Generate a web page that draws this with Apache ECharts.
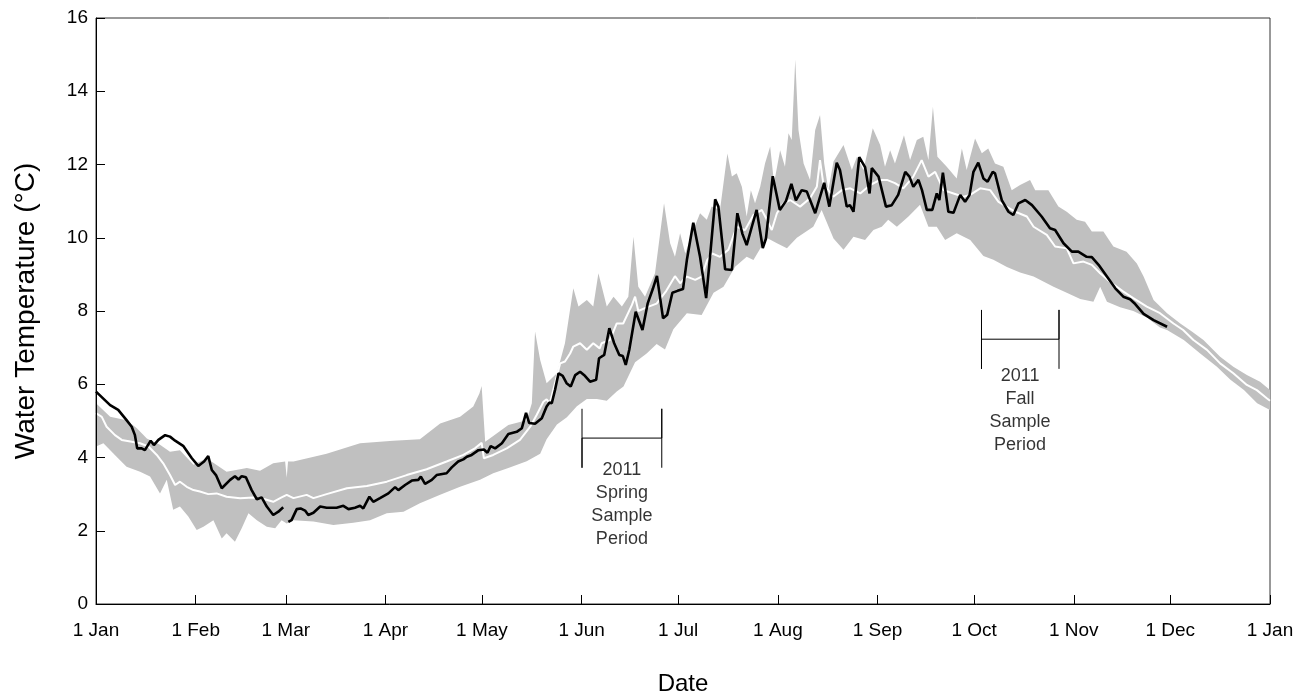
<!DOCTYPE html>
<html>
<head>
<meta charset="utf-8">
<script src="https://cdn.jsdelivr.net/npm/echarts@6/dist/echarts.min.js"></script>
<style>
html,body{margin:0;padding:0;background:#fff;}
#chart{width:1299px;height:694px;}
</style>
</head>
<body>
<div id="chart"></div>
<script>
// ---- Axis ticks ----
const monthStarts = [0,31,59,90,120,151,181,212,243,273,304,334,365];
const monthLabels = ['1 Jan','1 Feb','1 Mar','1 Apr','1 May','1 Jun','1 Jul','1 Aug','1 Sep','1 Oct','1 Nov','1 Dec','1 Jan'];
const yTicks = [0,2,4,6,8,10,12,14,16];

// ---- Historic range (grey band): upper edge ----
const bandUpperDays = [0,4.4,9.5,12.7,15.8,19.9,23,26.1,30.3,34.4,40.6,46.9,51,55.1,58.8,59.3,59.7,61.4,71.7,82.1,92.4,100.7,107,113.2,117.3,119.2,119.9,121,123.5,128.2,133.9,135.5,136.5,138.1,140.1,143.3,145.8,148.4,150,152.6,154.6,156.2,158.8,160.9,163.5,165.5,167.1,168.6,170.7,173.8,176.6,178.5,180,181.6,183.2,185.7,187.8,189.9,191.4,194,196.3,197.7,199.2,200.8,202.3,203.6,204.9,206.5,208,209.6,210.8,212.7,214.2,215.3,216.3,217.4,218.4,220,222,223.6,225.1,226.4,227.7,229.3,232.4,235,236.6,238.6,241.5,243.8,245.3,246.9,248.4,251.2,253.1,255.2,257.2,258.8,260.2,261.6,264.5,267.6,269.2,270.7,273.3,275.4,277.4,279.5,282.1,284.7,287.3,290.4,292,296.1,299.2,301.8,304.9,307.5,309.6,313.2,316.3,320.4,323.6,325.7,328.8,333,337.1,340.7,344.3,349.5,353.6,357.8,361.9,365];
const bandUpper = [5.48,5.11,5.02,4.80,4.52,4.35,4.16,4.20,3.80,3.98,3.61,3.71,3.64,3.84,3.89,3.45,3.89,3.89,4.10,4.39,4.46,4.50,4.93,5.11,5.39,5.75,5.95,4.43,4.59,4.89,5.02,5.48,7.44,6.66,6.03,6.30,7.12,8.62,8.12,8.30,8.12,9.03,8.12,8.39,8.12,8.39,10.03,8.66,8.39,9.03,10.94,9.85,9.48,10.12,9.57,10.21,10.67,10.49,10.85,10.76,12.30,11.67,11.76,11.39,10.58,11.30,10.94,11.39,12.03,12.49,11.49,12.39,11.94,12.85,12.67,14.87,12.94,12.03,11.58,12.94,13.35,12.03,11.30,12.08,12.53,11.85,12.21,11.85,12.99,12.53,11.94,12.39,12.03,12.80,12.12,12.67,12.76,12.12,13.58,12.21,11.94,11.62,12.44,11.85,12.71,12.31,12.44,12.03,11.94,11.30,11.44,11.58,11.30,11.30,10.85,10.71,10.49,10.44,10.17,10.17,9.76,9.62,9.30,8.94,8.30,7.94,7.66,7.44,7.21,6.75,6.48,6.25,6.07,5.84];

// ---- Historic range (grey band): lower edge ----
const bandLowerDays = [0,2.3,6.4,9.5,13.7,16.8,19.9,22,24,26.1,28.7,31.3,33.4,36.5,39.1,40.6,43.2,45.3,47.4,50,53.1,55.7,57.7,59.3,61.4,67.6,73.8,80,85.2,90.4,95.6,100.7,107,113.2,119.4,123.5,128.2,133.9,138.1,140.1,143.3,146.4,149.5,152.6,155.7,158.8,161.9,164,167.6,171.2,174.3,176.9,179.5,183.7,188.3,192,195.1,198.7,202.3,204.4,208.5,211.7,214.8,217.9,223,225.6,229.3,232.4,235.5,239.1,241.7,244.3,246.3,249,252.6,256.2,258.8,261.4,264,267.6,271.8,275.9,279,283.2,287.3,291.5,297.7,301.8,306,310.1,312.2,314.3,318.4,322.5,326.7,330.8,333,338.2,343.3,348.5,352.7,356.9,361,365];
const bandLower = [4.30,4.39,4.02,3.75,3.61,3.48,3.02,3.39,2.57,2.66,2.39,2.02,2.11,2.29,1.79,1.93,1.70,2.07,2.48,2.29,2.11,2.07,2.29,2.20,2.29,2.25,2.16,2.22,2.29,2.48,2.52,2.75,2.98,3.20,3.39,3.57,3.71,3.90,4.10,4.50,4.90,5.10,5.40,5.60,5.60,5.55,5.80,5.94,6.60,6.84,7.10,6.95,7.50,7.94,7.89,8.50,8.66,9.21,9.48,9.39,10.00,9.85,9.71,10.00,10.30,10.76,9.98,9.67,10.03,9.94,10.21,10.30,10.49,10.30,10.58,10.90,10.30,10.30,9.94,10.12,9.94,9.50,9.40,9.20,9.05,8.94,8.66,8.50,8.33,8.25,8.66,8.25,8.10,8.00,7.82,7.55,7.48,7.21,6.84,6.48,6.12,5.84,5.48,5.30];

// ---- Historic mean (white line) ----
const meanDays = [0,1.8,3.3,5.9,8,11.1,13.7,16.3,18.9,20.9,23,24.6,26.1,28.2,30.3,32.3,34.9,37.5,40.6,44.8,48.9,52.5,55.1,57.7,59.3,61.4,65.5,67.6,71.7,78,84.2,90.4,96.6,102.8,109,114.2,117.8,119.9,120.6,123.5,127.7,131.8,135,137,139.1,140.1,141.1,142.7,144.3,145.8,147.4,148.4,150.5,152.6,154.6,156.6,157.2,159.8,161.9,163.9,166.6,167.6,168.6,171.2,174.3,177.3,180,181.6,183.7,186.3,188.3,190,191.6,194,196.6,199.2,201.8,204.4,207,208.6,210.1,211.7,213.7,215.8,218.9,222,224.1,225.1,226.1,229.2,231.9,234.5,237.6,240.7,243.8,245.9,248.4,251,254.1,256.7,258.8,260.9,263.5,266.6,269.7,271.8,274.9,278,280.6,285.8,289.4,291.5,295.6,298.2,301.8,303.9,307,309.6,312.2,315.8,319.4,322.5,326.7,330.8,335,338,341.2,345.4,349.5,353.6,357.8,360.9,364,365];
const meanTemp = [5.21,5.11,4.84,4.61,4.48,4.43,4.39,4.30,4.07,3.84,3.52,3.25,3.34,3.20,3.11,3.07,3.00,3.02,2.93,2.89,2.91,2.86,2.79,2.91,2.98,2.89,2.98,2.89,3.00,3.16,3.22,3.34,3.52,3.68,3.89,4.07,4.25,4.40,3.98,4.07,4.25,4.48,4.84,5.16,5.52,5.59,5.48,6.03,6.57,6.62,6.84,7.03,7.12,6.94,7.12,6.98,7.12,7.21,7.66,7.66,8.16,8.39,8.00,8.10,8.20,8.55,8.95,8.76,8.94,8.85,8.94,9.39,9.57,9.48,9.67,10.30,10.21,10.62,10.76,10.49,10.21,10.67,10.94,11.03,10.85,11.08,11.39,12.12,11.49,11.12,11.30,11.35,11.21,11.44,11.58,11.58,11.49,11.35,11.67,12.12,11.67,11.80,11.30,11.21,11.12,11.17,11.35,11.30,10.98,10.71,10.58,10.30,10.08,9.76,9.71,9.30,9.35,9.26,9.03,8.76,8.53,8.35,8.12,7.94,7.66,7.48,7.21,6.94,6.57,6.30,5.98,5.84,5.62,5.55];

// ---- 2011 daily water temperature (black line); null = missing ----
const obsDays = [0,4.4,6.9,9.5,11.1,12.1,12.8,14.2,15.2,17,18,19.4,21.5,23,24.6,27.2,29.8,31.8,33.6,34.9,36,37.3,39.1,41.7,43.2,44.3,45.3,46.6,48.4,50,51.5,53.1,55.1,56.7,58.2,59,59.8,60.8,62.4,63.6,65,66,67.6,69.7,71.7,74.8,76.9,78.5,80.5,82.1,83.1,85,86.2,88.3,90.9,93,94,96.1,98.2,100.2,101,102.3,104.4,105.9,109,110.6,112.6,114.2,115.3,116.8,118.9,120.6,121.7,122.7,124.1,126.2,128.2,130.8,132.4,133.7,134.7,136.5,138.6,140.1,141,141.7,142.7,143.8,145.1,146.3,147.6,149,150.5,152,153.6,155.5,156.4,158,159.6,161.1,162.7,163.8,164.7,165.8,167.8,169.9,171.5,173.1,174.4,176.3,177.6,179.2,180.8,182.5,183.7,185.7,187.8,189.7,191.1,192.5,193.5,195.6,197.7,199.4,201,202.3,203.9,205.4,207.3,208.3,210.4,212.6,214.5,216.2,217.6,219.4,221,223.6,226.4,228,230.3,231.3,233.4,234.4,235.5,237.3,239.1,240.5,241.2,243.3,245.6,247.4,249.4,251.6,252.9,254.1,255.7,256.8,258.3,260,261.4,262.2,263.3,265,266.6,268.7,270.2,271.6,272.8,274.3,275.9,277.2,278.8,279.5,281.6,283.7,285.2,286.8,288.9,291,294,296.6,298.2,300.8,303.4,305.4,308,309.6,311.7,314.3,316.9,319.4,321.5,323.1,325.7,328.8,333];
const obsTemp = [5.80,5.43,5.30,5.02,4.84,4.61,4.25,4.25,4.20,4.46,4.34,4.48,4.61,4.57,4.46,4.31,3.98,3.77,3.89,4.04,3.66,3.52,3.16,3.39,3.49,3.40,3.49,3.46,3.11,2.86,2.91,2.66,2.43,2.52,2.64,null,2.24,2.29,2.59,2.61,2.55,2.43,2.49,2.66,2.63,2.63,2.68,2.59,2.63,2.68,2.61,2.93,2.79,2.89,3.02,3.19,3.11,3.25,3.37,3.39,3.48,3.28,3.39,3.52,3.57,3.73,3.89,3.95,4.02,4.07,4.20,4.22,4.13,4.31,4.25,4.39,4.64,4.70,4.80,5.22,4.94,4.92,5.07,5.39,5.50,5.48,5.84,6.30,6.23,6.03,5.94,6.25,6.34,6.23,6.07,6.12,6.71,6.80,7.53,7.12,6.80,6.77,6.53,6.94,7.98,7.48,8.20,8.60,8.96,7.80,7.90,8.50,8.55,8.60,9.39,10.41,9.48,8.35,9.67,11.05,10.85,9.14,9.12,10.67,10.10,9.80,10.30,10.76,9.72,9.98,11.68,10.76,11.00,11.47,11.02,11.30,11.26,10.67,11.50,10.85,12.05,11.85,10.85,10.89,10.71,12.20,11.93,11.21,11.90,11.67,10.85,10.89,11.17,11.80,11.67,11.39,11.58,11.30,10.76,10.76,11.21,11.03,11.78,10.71,10.68,11.17,10.98,11.17,11.80,12.05,11.62,11.53,11.80,11.76,11.03,10.71,10.62,10.94,11.03,10.89,10.58,10.26,10.21,9.85,9.62,9.62,9.48,9.47,9.26,8.94,8.62,8.39,8.32,8.19,7.92,7.75,7.57];

// ---- Sample period brackets: [start day, end day, bottom, middle, top] ----
const springPeriod = [151.1, 175.9, 3.72, 4.53, 5.33];
const fallPeriod = [275.3, 299.4, 6.42, 7.23, 8.03];
const springText = '2011\nSpring\nSample\nPeriod';
const fallText = '2011\nFall\nSample\nPeriod';
const springTextAnchor = [163.5, 3.96];
const fallTextAnchor = [287.3, 6.53];

const FONT = "'Liberation Sans', Arial, sans-serif";

function pairs(days, vals) {
  return days.map((d, i) => [d, vals[i] == null ? '-' : vals[i]]);
}
function bracket(p) {
  const [a, b, lo, mid, hi] = p;
  return [[a, hi], [a, lo], [a, mid], [b, mid], [b, hi], [b, lo]];
}

const chart = echarts.init(document.getElementById('chart'), null, {renderer: 'canvas'});
chart.setOption({
  animation: false,
  backgroundColor: '#fff',
  textStyle: {fontFamily: FONT},
  grid: {left: 96, right: 29, top: 18, bottom: 90, containLabel: false, outerBoundsMode: 'none',
    show: true, borderColor: '#333', borderWidth: 1, backgroundColor: 'transparent'},
  xAxis: {
    type: 'value', min: 0, max: 365, z: 10,
    axisLine: {show: true, lineStyle: {color: '#000', width: 1}},
    axisTick: {show: true, inside: true, length: 9, customValues: monthStarts, lineStyle: {color: '#000'}},
    axisLabel: {customValues: monthStarts, color: '#000', fontSize: 19, margin: 17, fontFamily: FONT,
      formatter: v => monthLabels[monthStarts.indexOf(v)] || ''},
    splitLine: {show: false},
    name: 'Date', nameLocation: 'middle', nameGap: 68,
    nameTextStyle: {fontSize: 24, color: '#000', fontFamily: FONT}
  },
  yAxis: {
    type: 'value', min: 0, max: 16, interval: 2, z: 10,
    axisLine: {show: true, lineStyle: {color: '#000', width: 1}},
    axisTick: {show: true, inside: true, length: 9, lineStyle: {color: '#000'}},
    axisLabel: {color: '#000', fontSize: 19, margin: 8, fontFamily: FONT,
      formatter: v => yTicks.indexOf(v) >= 0 ? String(v) : ''},
    splitLine: {show: false},
    name: 'Water Temperature (\u00B0C)', nameLocation: 'middle', nameGap: 56,
    nameTextStyle: {fontSize: 28, color: '#000', fontFamily: FONT}
  },
  series: [
    {
      type: 'custom', name: 'range', z: 1, silent: true,
      data: [[0, 0]],
      renderItem: function (params, api) {
        const pts = [];
        for (let i = 0; i < bandUpperDays.length; i++) pts.push(api.coord([bandUpperDays[i], bandUpper[i]]));
        for (let i = bandLowerDays.length - 1; i >= 0; i--) pts.push(api.coord([bandLowerDays[i], bandLower[i]]));
        return {type: 'polygon', shape: {points: pts}, style: {fill: '#c0c0c0', stroke: null}};
      }
    },
    {
      type: 'line', name: 'mean', z: 2, showSymbol: false, symbol: 'none', silent: true,
      data: pairs(meanDays, meanTemp),
      lineStyle: {color: '#ffffff', width: 2}
    },
    {
      type: 'line', name: '2011', z: 3, showSymbol: false, symbol: 'none', silent: true, connectNulls: false,
      data: pairs(obsDays, obsTemp),
      lineStyle: {color: '#000000', width: 2.6}
    },
    {
      type: 'line', name: 'spring bracket', z: 4, symbol: 'none', silent: true,
      data: bracket(springPeriod), lineStyle: {color: '#000', width: 1}
    },
    {
      type: 'line', name: 'fall bracket', z: 4, symbol: 'none', silent: true,
      data: bracket(fallPeriod), lineStyle: {color: '#000', width: 1}
    },
    {
      type: 'scatter', name: 'labels', z: 5, symbolSize: 0, silent: true,
      data: [
        {value: springTextAnchor, label: {formatter: springText}},
        {value: fallTextAnchor, label: {formatter: fallText}}
      ],
      label: {show: true, position: 'bottom', distance: 0, color: '#000', fontSize: 18, lineHeight: 23, align: 'center', fontFamily: FONT}
    }
  ]
});
</script>
</body>
</html>
